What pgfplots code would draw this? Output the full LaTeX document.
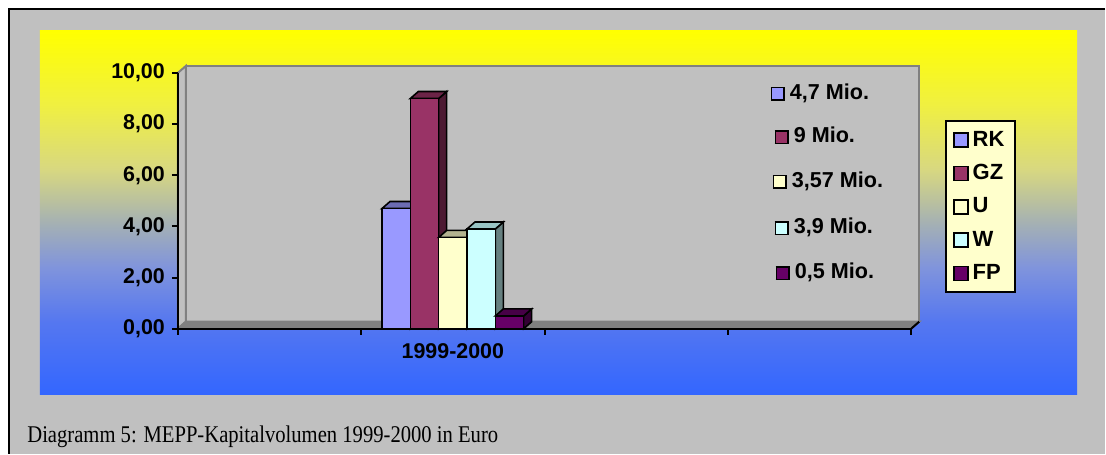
\documentclass[border=0pt]{standalone}
\usepackage{pgfplots}
\pgfplotsset{compat=1.18}
\usepackage{fontspec}
\setmainfont{Liberation Sans}
\newfontfamily\capfont{Liberation Serif}
\definecolor{rk}{HTML}{9999FF}\definecolor{rktop}{HTML}{6B6BB3}\definecolor{rkside}{HTML}{5C5C99}
\definecolor{gz}{HTML}{993366}\definecolor{gztop}{HTML}{6B2447}\definecolor{gzside}{HTML}{4D1A33}
\definecolor{uu}{HTML}{FFFFCC}\definecolor{uutop}{HTML}{B3B38F}\definecolor{uuside}{HTML}{808066}
\definecolor{ww}{HTML}{CCFFFF}\definecolor{wwtop}{HTML}{99C4C4}\definecolor{wwside}{HTML}{668080}
\definecolor{fp}{HTML}{660066}\definecolor{fptop}{HTML}{470047}\definecolor{fpside}{HTML}{330033}
\definecolor{wall}{HTML}{C0C0C0}\definecolor{wallline}{HTML}{808080}
\definecolor{legfill}{HTML}{FFFFCC}
\definecolor{g1}{HTML}{3366FF}\definecolor{g2}{HTML}{5577F0}\definecolor{g3}{HTML}{8094DC}
\definecolor{g4}{HTML}{A4B0B4}\definecolor{g5}{HTML}{D8D880}\definecolor{g6}{HTML}{F0F040}\definecolor{g7}{HTML}{FFFF00}
\pgfdeclareverticalshading{bggrad}{100bp}{color(0bp)=(g1); color(25bp)=(g1); color(35bp)=(g2); color(42.5bp)=(g3); color(48.5bp)=(g4); color(56bp)=(g5); color(65bp)=(g6); color(75bp)=(g7); color(100bp)=(g7)}
\newcommand{\sq}[1]{{\setlength\fboxrule{0.8pt}\setlength\fboxsep{0pt}\fcolorbox{black}{#1}{\makebox[5.4pt]{\rule{0pt}{5.4pt}}}}}
\begin{document}
\begin{tikzpicture}
\begin{scope}[x=0.5pt,y=-0.5pt,shift={(-178,-329)}]
\fill[white] (0,0) rectangle (1106,454);
\fill[wall] (9,9) rectangle (1106,454);
\draw[black,line width=1pt] (1106,9.5) -- (9.5,9.5) -- (9.5,454);
\shade[shading=bggrad] (40,31) rectangle (1078,395);
\node[anchor=base west,inner sep=0pt,font=\capfont\fontsize{12}{14}\selectfont] at (27,443) {\scalebox{0.86}[1]{Diagramm 5: MEPP-Kapitalvolumen 1999-2000 in Euro}};
\end{scope}
\begin{axis}[at={(0,0)}, anchor=south west, scale only axis, width=367pt, height=128pt,
  xmin=0, xmax=4, ymin=0, ymax=10, clip=false, axis on top,
  axis lines=left, axis line style={-, line width=1pt, black},
  xtick={0,1,2,3,4}, xticklabels={},
  extra x ticks={1.5}, extra x tick labels={1999-2000},
  extra x tick style={major tick length=0pt, tick label style={yshift=-4pt}},
  ytick={0,2,...,10},
  tick align=outside, major tick length=3pt, tick style={black, line width=1pt},
  ticklabel style={font=\bfseries\fontsize{10.7}{12}\selectfont},
  /pgf/number format/.cd, fixed, fixed zerofill, precision=2, use comma, assume math mode=true, /pgfplots/.cd,
  legend style={at={(1.0463,0.8164)}, anchor=north west, fill=legfill, draw=black, line width=1pt,
    font=\bfseries\fontsize{11}{13}\selectfont, row sep=3.6pt, inner xsep=3.5pt, inner ysep=3pt},
  legend cell align=left,
  ]
% walls
\addplot[fill=wall, draw=wallline, line width=1pt, forget plot] coordinates {(0.0436,0.273) (4.0436,0.273) (4.0436,10.273) (0.0436,10.273)} -- cycle;
\addplot[fill=wall, draw=wallline, line width=1pt, forget plot] coordinates {(0,0) (0.0436,0.273) (0.0436,10.273) (0,10)} -- cycle;
\addplot[fill=wallline, draw=wallline, line width=1pt, forget plot] coordinates {(0,0) (0.0436,0.273) (4.0436,0.273) (4,0)} -- cycle;
\addplot[black, line width=1pt, forget plot] coordinates {(4,0) (4.0436,0.273)};
% RK
\addplot[fill=rkside, draw=black, line width=0.8pt, forget plot] coordinates {(1.2683,0) (1.2683,4.7) (1.3119,4.973) (1.3119,0.273)} -- cycle;
\addplot[fill=rktop, draw=black, line width=0.8pt, forget plot] coordinates {(1.1138,4.7) (1.1574,4.973) (1.3119,4.973) (1.2683,4.7)} -- cycle;
\addplot[ybar, bar width=0.1545, bar shift=-0.309, fill=rk, draw=black, line width=0.8pt, forget plot] coordinates {(1.5,4.7)};
% GZ
\addplot[fill=gzside, draw=black, line width=0.8pt, forget plot] coordinates {(1.4228,0) (1.4228,9) (1.4664,9.273) (1.4664,0.273)} -- cycle;
\addplot[fill=gztop, draw=black, line width=0.8pt, forget plot] coordinates {(1.2683,9) (1.3119,9.273) (1.4664,9.273) (1.4228,9)} -- cycle;
\addplot[ybar, bar width=0.1545, bar shift=-0.1545, fill=gz, draw=black, line width=0.8pt, forget plot] coordinates {(1.5,9)};
% U
\addplot[fill=uuside, draw=black, line width=0.8pt, forget plot] coordinates {(1.5773,0) (1.5773,3.57) (1.6209,3.843) (1.6209,0.273)} -- cycle;
\addplot[fill=uutop, draw=black, line width=0.8pt, forget plot] coordinates {(1.4228,3.57) (1.4664,3.843) (1.6209,3.843) (1.5773,3.57)} -- cycle;
\addplot[ybar, bar width=0.1545, bar shift=0, fill=uu, draw=black, line width=0.8pt, forget plot] coordinates {(1.5,3.57)};
% W
\addplot[fill=wwside, draw=black, line width=0.8pt, forget plot] coordinates {(1.7318,0) (1.7318,3.9) (1.7754,4.173) (1.7754,0.273)} -- cycle;
\addplot[fill=wwtop, draw=black, line width=0.8pt, forget plot] coordinates {(1.5773,3.9) (1.6209,4.173) (1.7754,4.173) (1.7318,3.9)} -- cycle;
\addplot[ybar, bar width=0.1545, bar shift=0.1545, fill=ww, draw=black, line width=0.8pt, forget plot] coordinates {(1.5,3.9)};
% FP
\addplot[fill=fpside, draw=black, line width=0.8pt, forget plot] coordinates {(1.8863,0) (1.8863,0.5) (1.9299,0.773) (1.9299,0.273)} -- cycle;
\addplot[fill=fptop, draw=black, line width=0.8pt, forget plot] coordinates {(1.7318,0.5) (1.7754,0.773) (1.9299,0.773) (1.8863,0.5)} -- cycle;
\addplot[ybar, bar width=0.1545, bar shift=0.309, fill=fp, draw=black, line width=0.8pt, forget plot] coordinates {(1.5,0.5)};
% legend
\addlegendimage{legend image code/.code={\draw[fill=rk,draw=black,line width=0.8pt] (0pt,-3.5pt) rectangle (7pt,3.5pt);}}
\addlegendentry{RK}
\addlegendimage{legend image code/.code={\draw[fill=gz,draw=black,line width=0.8pt] (0pt,-3.5pt) rectangle (7pt,3.5pt);}}
\addlegendentry{GZ}
\addlegendimage{legend image code/.code={\draw[fill=uu,draw=black,line width=0.8pt] (0pt,-3.5pt) rectangle (7pt,3.5pt);}}
\addlegendentry{U}
\addlegendimage{legend image code/.code={\draw[fill=ww,draw=black,line width=0.8pt] (0pt,-3.5pt) rectangle (7pt,3.5pt);}}
\addlegendentry{W}
\addlegendimage{legend image code/.code={\draw[fill=fp,draw=black,line width=0.8pt] (0pt,-3.5pt) rectangle (7pt,3.5pt);}}
\addlegendentry{FP}
% value labels
\begin{scope}[every node/.style={anchor=west, inner sep=0pt, font=\bfseries\fontsize{10.8}{12}\selectfont}]
\node at (axis cs:3.232,9.22) {\sq{rk}\hspace{2.6pt}4,7 Mio.};
\node at (axis cs:3.253,7.54) {\sq{gz}\hspace{2.6pt}9 Mio.};
\node at (axis cs:3.243,5.78) {\sq{uu}\hspace{2.6pt}3,57 Mio.};
\node at (axis cs:3.253,3.95) {\sq{ww}\hspace{2.6pt}3,9 Mio.};
\node at (axis cs:3.259,2.19) {\sq{fp}\hspace{2.6pt}0,5 Mio.};
\end{scope}
\end{axis}
\end{tikzpicture}
\end{document}
